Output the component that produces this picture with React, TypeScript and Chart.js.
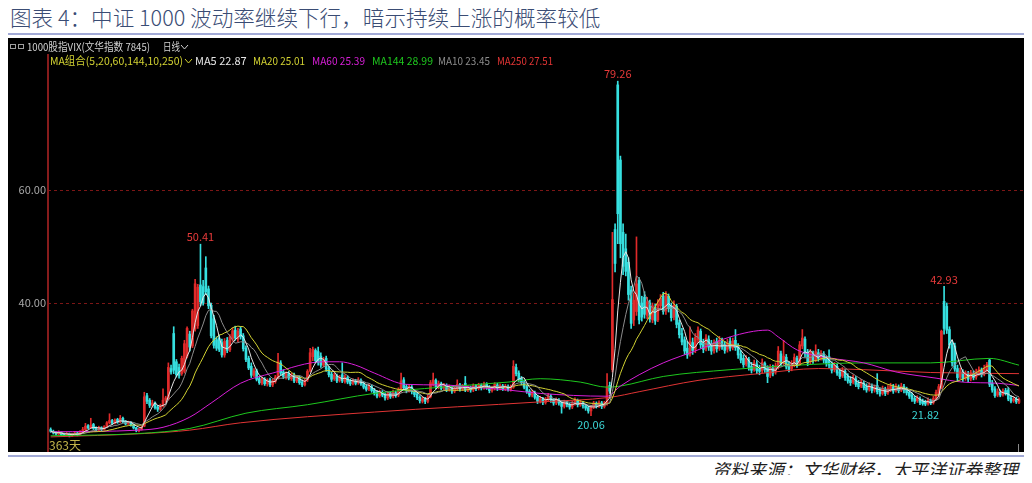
import React, { useEffect, useRef } from "react";
import { Chart, registerables } from "chart.js";

Chart.register(...registerables);

// ---------- text ----------
const titleText = "图表 4：中证 1000 波动率继续下行，暗示持续上涨的概率较低";
const sourceText = "资料来源：文华财经，太平洋证券整理";
const headerText = "1000股指VIX(文华指数 7845)";
const periodText = "日线";
const maGroupText = "MA组合(5,20,60,144,10,250)";
const dayCountText = "363天";

// ---------- legend ----------
const maNames = ["MA5", "MA20", "MA60", "MA144", "MA10", "MA250"];
const maValues = [22.87, 25.01, 25.39, 28.99, 23.45, 27.51];

// ---------- axis ----------
const yTicks = [60, 40];
const highLabelIdx = [56, 212, 334];
const lowLabelIdx = [202, 327];

// ---------- daily candles (363 days) ----------
const opens = [
  17.6,17.3,17.1,16.8,17.1,16.8,16.6,16.9,16.5,16.8,
  17.0,16.7,17.1,17.6,18.3,17.9,18.5,17.9,17.5,17.9,
  17.6,18.1,18.8,19.2,18.7,19.4,18.9,19.6,19.1,18.6,
  18.9,18.4,17.9,17.4,17.6,18.2,23.6,22.8,21.9,22.3,
  21.6,21.2,21.8,22.8,23.0,28.4,34.6,29.6,28.6,27.5,
  27.9,30.6,34.5,32.4,35.4,36.0,43.2,42.9,46.2,42.5,
  39.6,37.2,33.5,33.8,33.0,30.8,33.4,31.7,33.6,35.2,
  33.6,35.4,34.2,32.0,30.2,28.8,27.2,28.0,26.6,25.8,
  26.5,25.7,26.4,25.5,26.1,26.8,29.4,27.8,26.9,27.5,
  26.6,27.2,26.2,26.8,26.0,25.5,26.4,28.0,30.5,31.6,
  31.4,30.6,29.0,30.2,28.4,27.4,26.6,27.1,26.3,27.3,
  26.1,26.8,26.2,25.8,26.2,25.9,26.3,25.7,25.2,24.8,
  25.2,24.6,24.2,23.6,24.2,23.8,23.2,24.0,23.5,24.1,
  23.7,24.5,26.4,25.2,24.5,25.1,24.3,23.9,23.3,22.6,
  23.0,22.6,23.4,25.6,26.3,25.1,25.7,24.9,25.4,24.7,
  25.0,24.4,24.8,25.5,24.8,25.8,24.6,25.0,24.6,25.3,
  24.9,25.4,25.0,25.6,25.1,24.5,24.9,25.5,24.9,25.3,
  24.8,25.2,24.7,25.1,28.6,27.6,26.6,26.0,25.2,24.4,
  23.7,24.1,23.4,22.6,23.0,22.4,23.0,23.5,22.8,22.3,
  22.8,22.4,21.7,22.4,22.0,21.6,22.2,22.7,22.0,22.3,
  21.8,21.5,20.9,21.6,22.2,21.8,22.3,21.7,22.2,25.4,
  28.2,53.0,78.6,65.3,52.5,49.6,47.2,42.3,37.0,38.5,
  44.0,40.0,41.0,37.8,40.0,37.0,39.2,37.0,39.5,41.2,
  38.6,41.2,39.5,37.5,39.4,36.5,34.6,33.5,32.0,31.0,
  33.0,31.8,33.5,35.0,33.0,32.0,33.6,32.8,31.6,33.2,
  32.0,33.2,32.6,31.8,33.2,32.1,33.4,32.4,31.0,30.2,
  29.2,30.0,28.8,28.2,29.2,28.3,28.0,29.3,28.5,27.2,
  28.4,27.8,28.6,31.0,29.5,30.4,28.9,28.4,29.0,30.2,
  29.3,32.4,33.6,31.3,29.6,31.0,30.0,31.2,30.3,31.0,
  30.1,30.5,29.2,28.2,28.8,27.8,27.1,27.9,27.0,26.4,
  26.0,26.6,25.8,25.3,25.8,25.2,24.7,25.3,24.6,25.4,
  24.5,24.0,24.7,24.1,24.7,25.2,24.5,25.1,24.6,25.2,
  24.7,24.2,23.7,23.1,22.7,23.0,22.6,22.5,22.2,22.7,
  22.4,23.0,23.8,25.0,40.3,39.4,35.3,32.8,32.4,28.4,
  26.9,27.8,26.7,27.4,26.6,27.5,26.9,27.6,28.1,27.4,
  28.2,29.9,25.8,24.8,23.7,24.2,23.8,24.5,24.6,23.2,
  22.7,23.0,22.4,
];

const highs = [
  17.9,17.5,17.3,17.4,17.2,17.0,17.1,17.0,17.0,17.2,
  17.1,17.4,18.0,18.7,18.5,19.6,18.7,18.1,18.2,18.1,
  18.3,19.0,20.4,19.4,19.5,19.6,20.1,19.8,19.2,19.1,
  19.0,18.6,18.0,17.8,18.2,24.2,24.0,23.1,22.8,22.5,
  21.9,22.1,24.8,23.5,29.4,29.0,35.8,30.0,29.2,30.6,
  33.4,35.8,35.0,38.9,44.2,43.3,50.41,44.0,48.2,43.0,
  40.0,37.8,34.0,34.3,33.6,33.7,33.9,34.4,35.6,35.9,
  35.5,35.8,34.6,32.4,30.6,29.4,28.4,28.3,27.0,26.9,
  26.8,26.6,26.7,26.5,27.2,31.1,29.8,28.2,27.8,27.9,
  27.6,27.6,27.0,27.1,26.4,26.6,28.2,32.0,32.2,31.9,
  32.2,31.2,30.4,30.6,28.8,27.8,27.6,27.4,27.2,29.4,
  27.3,27.1,26.5,26.6,26.5,26.8,26.6,26.0,25.5,25.7,
  25.5,24.9,24.5,24.6,24.5,24.1,24.3,24.3,24.6,24.4,
  25.0,27.6,26.8,25.6,25.6,25.4,24.6,24.2,23.6,23.4,
  23.3,23.8,26.3,27.6,26.6,26.2,26.0,25.8,25.7,25.5,
  25.3,25.2,26.4,25.8,25.6,27.0,25.4,25.3,25.7,25.6,
  25.8,25.7,26.0,25.9,25.4,25.3,25.9,25.8,25.7,25.6,
  25.6,25.5,25.5,29.8,29.2,28.0,27.0,26.3,25.5,24.7,
  24.6,24.4,23.7,23.5,23.3,23.3,24.0,23.8,23.1,23.2,
  23.1,22.7,22.8,22.7,22.3,22.6,23.2,23.0,22.8,22.6,
  22.1,21.8,21.9,22.6,22.5,22.7,22.6,22.6,27.5,26.0,
  52.5,54.0,79.26,66.0,54.0,52.2,48.0,43.0,41.8,51.7,
  44.5,41.2,42.0,41.0,40.5,40.0,39.8,40.6,41.5,41.9,
  42.0,41.6,40.0,40.4,39.8,37.0,35.5,34.0,33.2,35.8,
  33.8,34.6,35.8,35.4,33.6,34.4,34.2,33.4,33.5,33.8,
  34.1,33.8,33.2,33.6,33.9,33.8,35.3,32.8,31.6,30.8,
  30.7,30.4,29.5,29.9,29.8,29.0,30.1,29.6,28.9,29.1,
  29.0,29.4,32.3,31.5,33.4,30.9,29.6,29.8,31.0,30.6,
  33.2,35.3,34.0,31.8,31.8,31.5,32.6,31.8,31.6,31.4,
  30.6,31.7,29.6,29.5,29.2,28.3,28.6,28.3,27.5,27.0,
  27.3,27.0,26.3,26.5,26.2,25.7,25.9,25.7,25.5,27.5,
  25.0,25.3,25.1,25.4,25.8,25.6,25.7,25.5,25.8,25.6,
  25.1,24.6,24.1,23.5,23.6,23.4,23.0,22.8,23.2,23.0,
  23.5,24.6,25.6,35.2,42.93,40.0,35.8,33.3,32.9,29.0,
  28.5,28.2,28.0,27.9,28.1,28.0,28.3,28.7,28.5,29.0,
  29.5,30.1,26.3,25.2,24.8,24.6,24.8,24.9,25.1,23.6,
  23.4,23.3,23.2,
];

const lows = [
  17.1,16.8,16.6,16.7,16.5,16.4,16.5,16.3,16.4,16.6,
  16.5,16.6,17.0,17.4,17.7,17.8,17.6,17.3,17.4,17.4,
  17.5,17.9,18.6,18.5,18.6,18.7,18.8,18.8,18.4,18.5,
  18.2,17.7,17.2,17.2,17.5,18.1,22.2,21.5,21.6,21.2,
  20.8,21.0,21.6,22.4,22.8,27.4,27.5,26.9,26.7,27.2,
  27.6,30.3,31.5,32.1,35.0,35.5,39.5,39.6,41.5,39.0,
  33.8,32.0,31.6,31.4,30.4,30.4,31.2,31.4,33.2,33.4,
  33.1,33.6,31.5,29.6,28.2,26.8,26.9,26.2,25.6,25.5,
  25.4,25.3,25.2,25.2,25.8,26.5,27.2,26.6,26.5,26.4,
  26.3,25.9,25.9,25.6,25.2,25.3,26.1,27.8,29.8,29.4,
  29.0,28.6,28.7,27.9,26.9,26.1,26.3,25.9,26.0,25.9,
  25.8,25.7,25.4,25.5,25.5,25.6,25.4,24.8,24.4,24.5,
  24.2,23.7,23.2,23.3,23.4,22.8,22.9,23.1,23.2,23.3,
  23.4,24.2,24.6,24.1,24.2,23.9,23.4,22.9,22.3,22.3,
  22.2,22.3,23.2,25.3,24.8,24.8,24.6,24.6,24.3,24.4,
  24.0,24.1,24.5,24.4,24.5,24.3,24.3,24.2,24.3,24.5,
  24.6,24.6,24.7,24.7,24.1,24.2,24.6,24.5,24.6,24.5,
  24.5,24.4,24.4,24.9,27.1,26.1,25.5,24.8,24.0,23.4,
  23.4,23.0,22.2,22.3,22.0,22.1,22.7,22.4,21.9,22.0,
  21.9,20.5,21.4,21.6,21.2,21.3,21.9,21.6,21.7,21.4,
  21.0,20.5,20.06,21.3,21.4,21.5,21.3,21.4,21.9,24.0,
  27.8,45.5,50.5,48.0,45.0,44.8,40.5,35.5,36.0,37.8,
  36.3,36.8,37.3,37.2,36.6,36.5,36.2,36.7,38.9,38.0,
  38.0,38.4,36.8,37.0,35.6,33.8,32.6,30.9,30.2,30.6,
  30.9,31.2,33.0,32.0,31.2,31.5,31.6,30.9,31.1,31.3,
  31.6,31.8,31.1,31.3,31.5,31.7,31.6,30.2,29.4,28.6,
  28.8,28.1,27.6,27.9,27.5,27.3,27.6,27.7,25.9,26.8,
  27.1,27.4,28.3,28.9,29.1,28.3,27.8,28.0,28.7,28.6,
  29.0,31.9,30.4,28.9,29.2,29.3,29.6,29.7,29.9,29.4,
  28.8,28.5,27.6,27.8,27.2,26.6,26.8,26.3,25.8,25.4,
  25.7,25.2,24.8,25.0,24.6,24.2,24.4,24.1,24.2,23.9,
  23.5,23.7,23.6,23.8,24.3,24.0,24.2,24.1,24.3,24.1,
  23.7,23.1,22.6,22.2,22.4,22.0,21.9,21.82,21.9,22.0,
  22.1,22.8,23.5,24.8,34.5,34.6,32.0,28.8,27.9,26.2,
  26.5,26.1,26.3,26.0,26.2,26.4,26.5,27.2,26.9,27.1,
  27.8,25.2,24.2,23.3,23.4,23.4,23.5,23.7,22.7,22.3,
  22.4,22.2,22.2,
];

const closes = [
  17.3,17.0,16.8,17.1,16.7,16.6,16.9,16.5,16.8,17.0,
  16.7,17.2,17.6,18.2,17.9,18.4,17.8,17.5,17.9,17.6,
  18.1,18.8,19.2,18.7,19.3,18.9,19.6,19.0,18.6,18.9,
  18.4,17.9,17.4,17.6,18.0,23.4,22.6,21.9,22.3,21.5,
  21.2,21.7,22.8,23.2,28.6,27.8,28.1,27.3,27.2,30.2,
  32.8,35.5,32.2,38.6,43.4,42.8,40.2,40.0,42.0,39.5,
  34.2,32.5,32.0,31.8,30.8,33.2,31.6,34.0,35.1,33.8,
  35.0,34.0,31.9,30.0,28.5,27.2,28.0,26.5,25.9,26.6,
  25.7,26.3,25.5,26.2,26.9,29.6,27.6,27.0,27.4,26.7,
  27.3,26.2,26.7,25.9,25.5,26.3,27.9,31.2,31.8,29.8,
  29.5,29.0,30.0,28.3,27.3,26.5,27.2,26.2,26.9,26.2,
  26.9,26.0,25.7,26.3,25.8,26.4,25.7,25.1,24.7,25.3,
  24.5,24.0,23.5,24.3,23.7,23.2,24.0,23.4,24.2,23.6,
  24.6,26.2,25.0,24.5,25.2,24.3,23.8,23.2,22.7,23.1,
  22.6,23.4,25.9,26.4,25.2,25.8,24.9,25.5,24.7,25.1,
  24.4,24.9,25.6,24.8,25.3,24.6,25.1,24.6,25.4,24.9,
  25.5,25.0,25.7,25.1,24.5,25.0,25.6,24.9,25.4,24.8,
  25.3,24.7,25.1,28.8,27.5,26.5,25.9,25.1,24.3,23.7,
  24.2,23.3,22.6,23.1,22.4,23.0,23.6,22.8,22.3,22.9,
  22.3,21.7,22.4,22.0,21.6,22.2,22.8,22.0,22.4,21.8,
  21.4,20.9,21.6,22.3,21.8,22.4,21.7,22.3,25.2,24.4,
  40.6,47.0,55.8,50.5,46.5,45.6,41.5,36.4,40.5,43.4,
  37.0,37.5,38.0,40.2,37.2,39.5,36.8,39.8,40.8,38.5,
  41.5,39.0,37.4,39.6,36.2,34.4,33.1,31.5,30.8,33.2,
  31.6,33.9,35.2,32.6,31.8,33.8,32.2,31.5,33.0,31.9,
  33.4,32.3,31.6,32.9,32.0,33.3,32.1,30.8,29.9,29.1,
  30.2,28.6,28.1,29.4,28.0,27.9,29.5,28.2,27.0,28.6,
  27.6,28.9,31.5,29.3,30.6,28.7,28.2,29.3,30.4,29.0,
  32.6,33.8,31.0,29.4,31.2,29.8,31.4,30.2,31.1,29.9,
  29.3,29.0,28.1,29.0,27.6,27.0,28.1,26.8,26.2,25.9,
  26.8,25.6,25.2,26.0,25.0,24.6,25.4,24.5,25.1,24.3,
  23.9,24.8,24.0,24.9,25.3,24.4,25.2,24.5,25.3,24.6,
  24.1,23.5,23.0,22.6,23.2,22.4,22.2,22.1,22.8,22.3,
  23.1,24.2,25.2,35.0,35.5,35.2,32.6,29.4,28.3,26.8,
  28.0,26.6,27.5,26.5,27.6,26.8,27.8,28.2,27.3,28.4,
  29.1,25.6,24.6,23.6,24.3,23.7,24.4,24.0,23.0,22.6,
  23.0,22.5,22.9,
];

// ---------- long moving averages (day index, value) ----------
const ma60Idx = [0,33,42,52,60,71,83,102,108,114,121,133,146,158,171,183,208,213,220,229,242,254,268,272,279,291,304,316,331,341,354,362];
const ma60Val = [17.2,17.5,18.0,19.8,22.3,25.8,27.6,29.6,29.6,29.0,27.6,25.6,25.5,25.1,24.6,24.0,23.5,25.3,27.3,29.4,31.7,34.0,35.2,34.0,31.7,30.3,29.4,27.8,26.7,26.0,25.8,25.4];
const ma144Idx = [0,33,52,73,96,121,146,171,183,198,208,213,229,254,279,304,329,351,362];
const ma144Val = [16.5,16.9,17.8,20.5,22.0,24.0,25.1,26.0,26.6,26.0,25.1,25.3,27.0,28.2,29.0,29.4,29.4,30.2,29.0];
const ma250Idx = [0,35,52,71,121,183,209,220,242,265,287,304,329,362];
const ma250Val = [16.3,16.9,17.5,18.8,20.7,22.5,23.3,24.3,26.3,27.5,28.4,28.2,27.7,27.5];

// ---------- styling ----------
const UP = "#e02a2a";
const DOWN = "#36e0e0";
const MA_COLORS: Record<string, string> = {
  MA5: "#e6e6e6",
  MA10: "#8c8c8c",
  MA20: "#d2d232",
  MA60: "#d81ed8",
  MA144: "#1ec81e",
  MA250: "#e03434",
};
const FONT = '"Noto Sans CJK SC", "DejaVu Sans", sans-serif';

function sma(n: number) {
  return closes.map((_, i) => {
    const s = Math.max(0, i - n + 1);
    let sum = 0;
    for (let k = s; k <= i; k++) sum += closes[k];
    return { x: i, y: sum / (i - s + 1) };
  });
}

function pts(idx: number[], val: number[]) {
  return idx.map((x, k) => ({ x, y: val[k] }));
}

function chevron(ctx: CanvasRenderingContext2D, x: number, y: number, color: string) {
  ctx.save();
  ctx.strokeStyle = color;
  ctx.lineWidth = 1;
  ctx.beginPath();
  ctx.moveTo(x, y - 2);
  ctx.lineTo(x + 3.5, y + 2);
  ctx.lineTo(x + 7, y - 2);
  ctx.stroke();
  ctx.restore();
}

// draw text squeezed horizontally to a given width
function fitText(ctx: CanvasRenderingContext2D, text: string, x: number, y: number, w: number) {
  const m = ctx.measureText(text).width;
  ctx.save();
  ctx.translate(x, y);
  ctx.scale(Math.min(1, w / m), 1);
  ctx.textAlign = "left";
  ctx.fillText(text, 0, 0);
  ctx.restore();
}

const decor = {
  id: "decor",
  beforeDraw(chart: any) {
    const { ctx, width, height } = chart;
    ctx.save();
    ctx.fillStyle = "#000";
    ctx.fillRect(0, 0, width, height);
    ctx.restore();
  },
  beforeDatasetsDraw(chart: any) {
    const { ctx, chartArea: a, scales } = chart;
    const y = scales.y;
    ctx.save();
    ctx.strokeStyle = "#7c1616";
    ctx.lineWidth = 1;
    ctx.setLineDash([3, 3]);
    yTicks.forEach((v) => {
      const py = Math.round(y.getPixelForValue(v)) + 0.5;
      ctx.beginPath();
      ctx.moveTo(a.left, py);
      ctx.lineTo(a.right, py);
      ctx.stroke();
    });
    ctx.setLineDash([]);
    ctx.strokeStyle = "#861c1c";
    ctx.lineWidth = 2;
    ctx.beginPath();
    ctx.moveTo(a.left, a.top);
    ctx.lineTo(a.left, a.bottom);
    ctx.stroke();
    ctx.restore();
  },
  afterDatasetsDraw(chart: any) {
    const { ctx, chartArea: a, scales } = chart;
    const x = scales.x;
    const y = scales.y;
    ctx.save();
    ctx.textBaseline = "middle";

    // header row
    ctx.font = `11px ${FONT}`;
    ctx.strokeStyle = "#a0a0a0";
    ctx.lineWidth = 1;
    ctx.strokeRect(2.5, 6.5, 5, 4);
    ctx.strokeRect(10.5, 6.5, 5, 4);
    ctx.fillStyle = "#d2d2d2";
    fitText(ctx, headerText, 19, 9, 123);
    fitText(ctx, periodText, 155, 9, 17);
    chevron(ctx, 173, 9, "#d2d2d2");

    // MA legend row
    const rowY = 23;
    ctx.fillStyle = MA_COLORS.MA20;
    fitText(ctx, maGroupText, 42, rowY, 133);
    chevron(ctx, 177, rowY, MA_COLORS.MA20);
    const legendX = [187, 245, 304, 364, 430, 489];
    const legendW = [53, 52, 53, 61, 52, 56];
    maNames.forEach((n, k) => {
      ctx.fillStyle = MA_COLORS[n];
      fitText(ctx, `${n} ${maValues[k].toFixed(2)}`, legendX[k], rowY, legendW[k]);
    });

    // y tick labels
    ctx.fillStyle = "#a8a8a8";
    ctx.textAlign = "right";
    yTicks.forEach((v) => {
      ctx.fillText(v.toFixed(2), a.left - 2, y.getPixelForValue(v));
    });

    // high / low markers
    ctx.textAlign = "center";
    ctx.fillStyle = "#e83a3a";
    highLabelIdx.forEach((i) => {
      ctx.fillText(highs[i].toFixed(2), x.getPixelForValue(i), y.getPixelForValue(highs[i]) - 7);
    });
    ctx.fillStyle = "#3cd6d6";
    lowLabelIdx.forEach((i) => {
      ctx.fillText(lows[i].toFixed(2), x.getPixelForValue(i), y.getPixelForValue(lows[i]) + 9);
    });

    // day count
    ctx.font = `12px ${FONT}`;
    ctx.textAlign = "left";
    ctx.fillStyle = "#c2b44a";
    ctx.fillText(dayCountText, a.left + 1, a.bottom - 7);

    // small end mark
    ctx.strokeStyle = "#8a8a8a";
    ctx.beginPath();
    ctx.moveTo(a.right - 4.5, a.bottom - 8);
    ctx.lineTo(a.right - 4.5, a.bottom);
    ctx.stroke();
    ctx.restore();
  },
};

export default function App() {
  const ref = useRef<HTMLCanvasElement>(null);

  useEffect(() => {
    const canvas = ref.current;
    if (!canvas) return;
    const idx = closes.map((_, i) => i);
    const colors = idx.map((i) => (closes[i] >= opens[i] ? UP : DOWN));
    const line = (label: string, data: any[], smooth: boolean, order: number) => ({
      type: "line" as const,
      label,
      data,
      borderColor: MA_COLORS[label],
      backgroundColor: MA_COLORS[label],
      borderWidth: 1,
      pointRadius: 0,
      fill: false,
      cubicInterpolationMode: smooth ? ("monotone" as const) : ("default" as const),
      order,
    });

    const chart = new Chart(canvas, {
      type: "bar",
      data: {
        datasets: [
          line("MA250", pts(ma250Idx, ma250Val), true, 6),
          line("MA144", pts(ma144Idx, ma144Val), true, 5),
          line("MA60", pts(ma60Idx, ma60Val), true, 4),
          line("MA20", sma(20), false, 3),
          line("MA10", sma(10), false, 2),
          line("MA5", sma(5), false, 1),
          {
            type: "bar",
            label: "body",
            data: idx.map((i) => ({ x: i, y: [opens[i], closes[i]] })) as any,
            backgroundColor: colors,
            borderWidth: 0,
            barThickness: 2,
            minBarLength: 1,
            grouped: false,
            order: 8,
          },
          {
            type: "bar",
            label: "wick",
            data: idx.map((i) => ({ x: i, y: [lows[i], highs[i]] })) as any,
            backgroundColor: colors,
            borderWidth: 0,
            barThickness: 1,
            grouped: false,
            order: 9,
          },
        ] as any,
      },
      options: {
        responsive: false,
        animation: false,
        devicePixelRatio: 1,
        layout: { padding: { left: 40, right: 1, top: 16, bottom: 0 } },
        scales: {
          x: { type: "linear", min: -1, max: 363.5, display: false, offset: false },
          y: { type: "linear", min: 13.63, max: 84.07, display: false },
        },
        plugins: { legend: { display: false }, tooltip: { enabled: false } },
      },
      plugins: [decor as any],
    });
    return () => chart.destroy();
  }, []);

  return (
    <div style={{ position: "relative", width: 1016, height: 467, fontFamily: FONT }}>
      <div
        style={{
          position: "absolute",
          left: 2,
          top: -4,
          fontSize: 21.6,
          lineHeight: "26px",
          color: "#3a4c74",
          whiteSpace: "nowrap",
          fontWeight: 300,
        }}
      >
        {titleText}
      </div>
      <div style={{ position: "absolute", left: 0, top: 25, width: 1016, height: 2, background: "#a2aad6" }} />
      <canvas
        ref={ref}
        width={1016}
        height={414}
        style={{ position: "absolute", left: 0, top: 30, width: 1016, height: 414 }}
      />
      <div style={{ position: "absolute", left: 0, top: 447, width: 1016, height: 2, background: "#a2aad6" }} />
      <div
        style={{
          position: "absolute",
          right: 6,
          top: 450,
          fontSize: 18,
          lineHeight: "22px",
          fontStyle: "italic",
          color: "#1e1e1e",
          whiteSpace: "nowrap",
        }}
      >
        {sourceText}
      </div>
    </div>
  );
}
